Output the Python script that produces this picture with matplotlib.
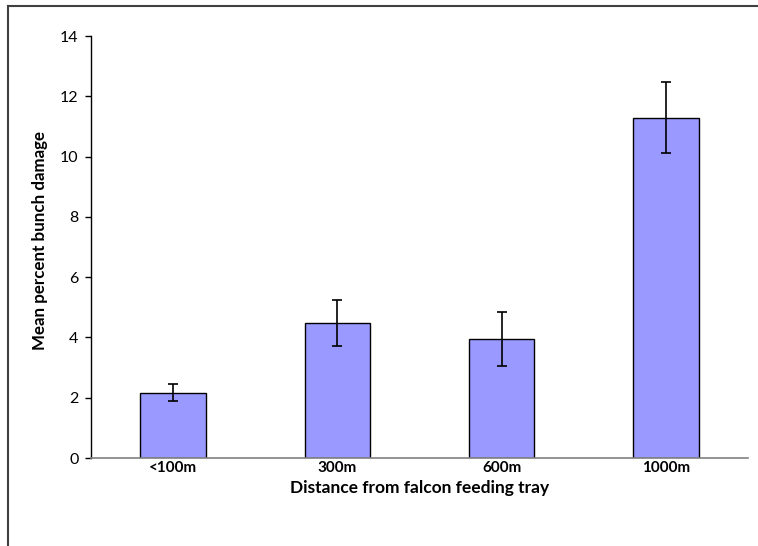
import matplotlib.pyplot as plt
from matplotlib.lines import Line2D

# Mean bunch damage by distance from the feeding tray
distances = ["<100m", "300m", "600m", "1000m"]
mean_damage = [2.17, 4.47, 3.96, 11.29]
std_err = [0.28, 0.77, 0.90, 1.17]

plt.rcParams["font.family"] = ["Lato", "DejaVu Sans"]

fig = plt.figure(figsize=(7.58, 5.46), dpi=100)
ax = fig.add_axes([91 / 758, 1 - 458 / 546, (748 - 91) / 758, (458 - 36) / 546])

x = range(len(distances))
ax.bar(x, mean_damage, width=0.40, color="#9999FF", edgecolor="black",
       linewidth=1.0, zorder=2)
ax.errorbar(x, mean_damage, yerr=std_err, fmt="none", ecolor="black",
            elinewidth=1.2, capsize=3.8, capthick=1.2, zorder=3)

ax.set_xlim(-0.5, len(distances) - 0.5)
ax.set_ylim(0, 14)
ax.set_yticks(range(0, 15, 2))
ax.set_xticks(list(x))
ax.set_xticklabels(distances, fontweight="bold", fontsize=11)
ax.tick_params(axis="x", length=0, pad=2)
ax.tick_params(axis="y", direction="out", length=4, width=1, labelsize=11.5, pad=5)

for side in ("top", "right"):
    ax.spines[side].set_visible(False)
ax.spines["left"].set_color("black")
ax.spines["left"].set_linewidth(1.0)
ax.spines["bottom"].set_color("#808080")
ax.spines["bottom"].set_linewidth(1.2)

ax.set_ylabel("Mean percent bunch damage", fontweight="bold", fontsize=12.2)
ax.yaxis.set_label_coords(-0.065, 0.515)
ax.set_xlabel("Distance from falcon feeding tray", fontweight="bold", fontsize=12.5, labelpad=4)

# chart area outline (left and top edges)
fig.add_artist(Line2D([8 / 758, 8 / 758], [0, 1 - 6 / 546], transform=fig.transFigure,
                      color="#404040", linewidth=1.5))
fig.add_artist(Line2D([8 / 758, 1], [1 - 6 / 546, 1 - 6 / 546], transform=fig.transFigure,
                      color="#404040", linewidth=1.5))

fig.savefig("out.png", dpi=100)
